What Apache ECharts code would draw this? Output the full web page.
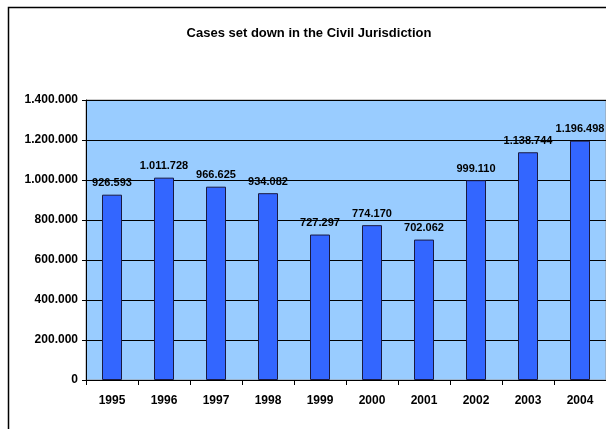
<!DOCTYPE html>
<html>
<head>
<meta charset="utf-8">
<script src="https://cdn.jsdelivr.net/npm/echarts@6/dist/echarts.min.js"></script>
<style>
  html, body { margin: 0; padding: 0; background: #fff; }
  #chart { width: 606px; height: 429px; }
</style>
</head>
<body>
<div id="chart"></div>
<script>
// data
const years = ['1995', '1996', '1997', '1998', '1999', '2000', '2001', '2002', '2003', '2004'];
const cases = [926593, 1011728, 966625, 934082, 727297, 774170, 702062, 999110, 1138744, 1196498];
const yMax = 1400000;
const yStep = 200000;

// 1234567 -> 1.234.567
const dots = (v) => String(v).replace(/\B(?=(\d{3})+(?!\d))/g, '.');

const chart = echarts.init(document.getElementById('chart'));

chart.setOption({
  animation: false,
  textStyle: { fontFamily: 'Liberation Sans, Arial, sans-serif' },
  graphic: [
    {
      type: 'rect',
      shape: { x: 8.5, y: 7.5, width: 620, height: 440 },
      style: { fill: 'none', stroke: '#000', lineWidth: 1.5 },
      z: 0,
    },
  ],
  title: {
    text: 'Cases set down in the Civil Jurisdiction',
    left: 304,
    top: 22,
    textAlign: 'center',
    textStyle: { fontSize: 13, fontWeight: 'bold', color: '#000' },
  },
  grid: {
    left: 86,
    top: 100,
    right: 0,
    bottom: 49,
    show: true,
    backgroundColor: '#99CCFF',
    borderColor: '#9a9a9a',
    borderWidth: 1,
  },
  xAxis: {
    type: 'category',
    data: years,
    axisLine: { lineStyle: { color: '#000', width: 1 } },
    axisTick: { show: true, length: 5, lineStyle: { color: '#000' } },
    axisLabel: { color: '#000', fontSize: 12, fontWeight: 'bold', margin: 15 },
  },
  yAxis: {
    type: 'value',
    min: 0,
    max: yMax,
    interval: yStep,
    axisLine: { show: true, lineStyle: { color: '#000', width: 1 } },
    axisTick: { show: true, length: 4, lineStyle: { color: '#000' } },
    axisLabel: {
      color: '#000',
      fontSize: 12,
      fontWeight: 'bold',
      margin: 8,
      formatter: (v) => dots(v),
    },
    splitLine: { lineStyle: { color: '#000', width: 1 } },
  },
  series: [
    {
      type: 'bar',
      data: cases,
      barWidth: 20,
      itemStyle: { color: '#3366FF', borderColor: '#1a1a40', borderWidth: 1 },
      label: {
        show: true,
        position: 'top',
        distance: 6,
        color: '#000',
        fontSize: 11,
        fontWeight: 'bold',
        formatter: (p) => dots(p.value),
      },
    },
  ],
});
</script>
</body>
</html>
